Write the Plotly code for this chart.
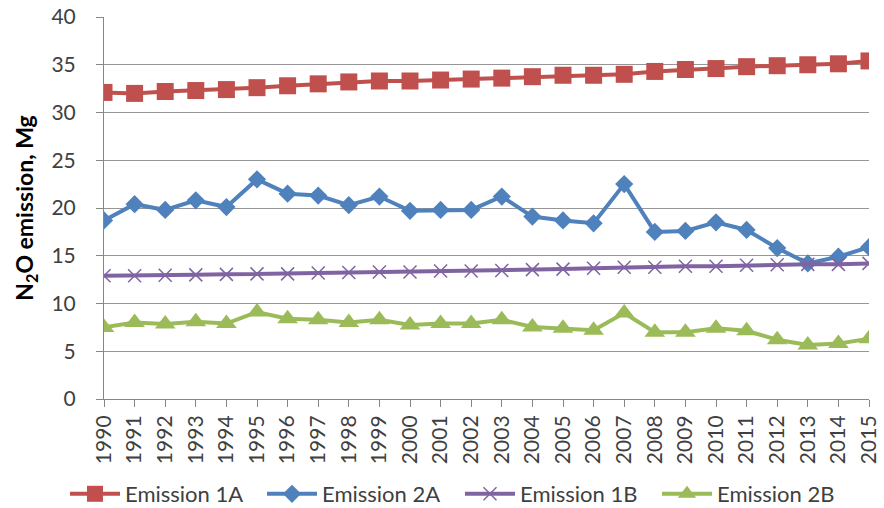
import plotly.graph_objects as go

years = [str(y) for y in range(1990, 2016)]
emission_1a = [32.1, 32.0, 32.2, 32.3, 32.4, 32.6, 32.8, 33.0, 33.2, 33.3, 33.3, 33.4, 33.5, 33.6,
               33.75, 33.9, 33.9, 34.0, 34.3, 34.5, 34.6, 34.8, 34.9, 35.0, 35.1, 35.4]
emission_2a = [18.7, 20.4, 19.8, 20.8, 20.1, 23.0, 21.5, 21.3, 20.3, 21.2, 19.7, 19.8, 19.8, 21.2,
               19.1, 18.7, 18.4, 22.5, 17.5, 17.6, 18.5, 17.7, 15.8, 14.2, 14.9, 15.9]
emission_1b = [12.9, 12.9, 12.95, 13.0, 13.05, 13.1, 13.1, 13.2, 13.25, 13.3, 13.3, 13.4, 13.4, 13.45,
               13.55, 13.6, 13.7, 13.8, 13.8, 13.9, 13.9, 14.0, 14.05, 14.1, 14.1, 14.2]
emission_2b = [7.5, 8.0, 7.85, 8.1, 7.9, 9.1, 8.4, 8.3, 8.0, 8.3, 7.75, 7.9, 7.9, 8.3,
               7.55, 7.4, 7.2, 9.0, 7.0, 7.0, 7.4, 7.15, 6.2, 5.65, 5.8, 6.3]

FONT = "Lato"
TXT = "#404040"

fig = go.Figure()
fig.add_trace(go.Scatter(x=years, y=emission_1a, name="Emission 1A", mode="lines+markers",
                         legend="legend",
                         line=dict(color="#C0504D", width=4),
                         marker=dict(symbol="square", size=17, color="#C0504D")))
fig.add_trace(go.Scatter(x=years, y=emission_2a, name="Emission 2A", mode="lines+markers",
                         legend="legend2",
                         line=dict(color="#4F81BD", width=4),
                         marker=dict(symbol="diamond", size=14, color="#4F81BD")))
fig.add_trace(go.Scatter(x=years, y=emission_1b, name="Emission 1B", mode="lines+markers",
                         legend="legend3",
                         line=dict(color="#8064A2", width=4),
                         marker=dict(symbol="x-thin", size=13, color="#8064A2",
                                     line=dict(color="#8064A2", width=1.5))))
fig.add_trace(go.Scatter(x=years, y=emission_2b, name="Emission 2B", mode="lines+markers",
                         legend="legend4",
                         line=dict(color="#9BBB59", width=4),
                         marker=dict(symbol="triangle-up", size=18, color="#9BBB59")))


def leg(xpix):
    return dict(orientation="h", xref="container", yref="container",
                x=xpix / 884, xanchor="left", y=14 / 508, yanchor="middle",
                font=dict(family=FONT, size=22, color=TXT),
                itemwidth=50, bgcolor="rgba(0,0,0,0)")


fig.update_layout(
    width=884, height=508,
    margin=dict(l=104, r=15, t=17, b=109, autoexpand=False),
    paper_bgcolor="white", plot_bgcolor="white",
    font=dict(family=FONT, size=21, color=TXT),
    showlegend=True,
    legend=leg(65), legend2=leg(262), legend3=leg(460), legend4=leg(657),
    xaxis=dict(type="category", range=[0, 25], showgrid=False,
               showline=True, linecolor="#868686", linewidth=1,
               ticks="outside", ticklen=7, tickcolor="#868686",
               tickangle=-90, tickfont=dict(family=FONT, size=21, color=TXT)),
    yaxis=dict(range=[0, 40], dtick=5, showgrid=True, gridcolor="#969696", gridwidth=1,
               showline=True, linecolor="#868686", linewidth=1,
               ticks="outside", ticklen=7, tickcolor="#868686", zeroline=False,
               ticklabelstandoff=16, ticklabeloverflow="allow",
               tickfont=dict(family=FONT, size=21, color=TXT),
               title=dict(text="<b>N<sub>2</sub>O emission, Mg</b>",
                          font=dict(family=FONT, size=23, color="#000000"), standoff=11)),
)

fig.write_html("out.html", config={"displayModeBar": False},
               post_script="document.body.style.margin='0';")
